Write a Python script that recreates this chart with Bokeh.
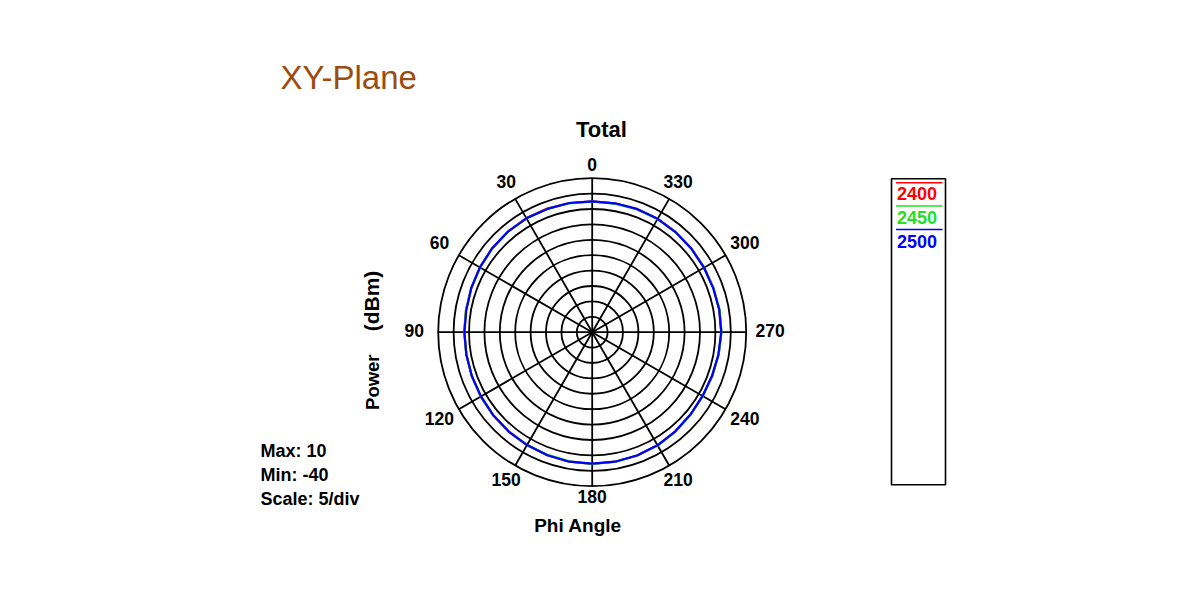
import numpy as np
from bokeh.plotting import figure
from bokeh.models import Range1d, Label
from bokeh.embed import file_html
from bokeh.resources import INLINE

# ---------------- data ----------------
phi_deg = list(range(0, 360, 10))
p2400 = [2.5, 2.6, 2.7, 2.8, 2.6, 2.4, 2.1, 1.8, 1.6, 1.5, 1.5, 1.6,
         1.8, 2.0, 2.2, 2.3, 2.5, 2.7, 2.8, 2.7, 2.6, 2.4, 2.0, 1.7,
         1.4, 1.5, 1.7, 1.9, 1.9, 1.9, 2.0, 2.1, 2.3, 2.5, 2.5, 2.5]
p2450 = [2.4, 2.5, 2.6, 2.7, 2.6, 2.3, 2.0, 1.8, 1.6, 1.6, 1.5, 1.6,
         1.8, 2.0, 2.1, 2.3, 2.4, 2.6, 2.8, 2.8, 2.6, 2.5, 2.1, 1.7,
         1.5, 1.5, 1.7, 2.0, 2.0, 1.9, 1.9, 2.1, 2.3, 2.4, 2.5, 2.4]
p2500 = [2.5, 2.6, 2.6, 2.7, 2.6, 2.4, 2.1, 1.8, 1.5, 1.5, 1.5, 1.6,
         1.7, 1.9, 2.1, 2.3, 2.5, 2.7, 2.7, 2.7, 2.6, 2.4, 2.0, 1.6,
         1.4, 1.4, 1.6, 1.9, 1.9, 1.8, 1.9, 2.1, 2.3, 2.5, 2.6, 2.5]
series_names = ["2400", "2450", "2500"]
series_colors = ["#FF0000", "#22E022", "#0000FF"]
angle_ticks = [0, 30, 60, 90, 120, 150, 180, 210, 240, 270, 300, 330]
r_min, r_max, r_step = -40, 10, 5

# ---------------- geometry helpers ----------------
W, H = 1184, 584
PX = 3.08             # pixels per dB
CX, CY = 591.7, 331.7 # centre in screenshot pixels
FONT = "Liberation Sans"


def P(X, Y):
    """screenshot pixel -> data coords"""
    return ((X - CX) / PX, (CY - Y) / PX)


def polar(phi, v):
    r = np.asarray(v, float) - r_min
    t = np.radians(np.asarray(phi, float))
    return -r * np.sin(t), r * np.cos(t)


p = figure(width=W, height=H, output_backend="svg", toolbar_location=None,
           x_range=Range1d(-CX / PX, (W - CX) / PX),
           y_range=Range1d(-(H - CY) / PX, CY / PX),
           min_border=0, outline_line_color=None)
p.axis.visible = False
p.grid.visible = False
p.background_fill_color = "white"
p.border_fill_color = "white"

R = r_max - r_min
# rings
rings = list(range(r_step, R + 1, r_step))
p.circle(x=[0] * len(rings), y=[0] * len(rings), radius=rings,
         fill_color=None, line_color="black", line_width=1.8)
# spokes
ex, ey = polar(angle_ticks, [r_max] * len(angle_ticks))
p.segment(x0=[0] * len(ex), y0=[0] * len(ey), x1=ex, y1=ey,
          line_color="black", line_width=1.8)

# traces
for vals, c in zip([p2400, p2450, p2500], series_colors):
    ph = phi_deg + [phi_deg[0] + 360]
    vv = vals + [vals[0]]
    x, y = polar(ph, vv)
    p.line(x, y, line_color=c, line_width=2.2)


def lab(X, Y, txt, size, align="left", color="black", style="bold", angle=0.0):
    shift = 0.44 * float(size.replace("px", ""))
    if angle == 0.0:
        Y = Y - shift
    else:
        X = X - shift
    x, y = P(X, Y)
    p.add_layout(Label(x=x, y=y, text=txt, text_font=FONT, text_font_style=style,
                       text_font_size=size, text_align=align, angle=angle,
                       text_baseline="alphabetic", text_color=color))


# angle labels
for a in angle_ticks:
    t = np.radians(a)
    rr = 166 + 12 * abs(np.sin(t))
    X = CX - rr * np.sin(t)
    Y = CY - rr * np.cos(t) + 0.358 * 17.5
    lab(X, Y, str(a), "17.5px", align="center")

lab(280, 91.5, "XY-Plane", "33px", color="#9C4C10", style="normal")
lab(601, 138.3, "Total", "22px", align="center")
lab(577.5, 533, "Phi Angle", "19px", align="center")
lab(380.5, 381.7, "Power", "18.5px", align="center", angle=np.pi / 2)
lab(380.5, 300.5, "(dBm)", "21px", align="center", angle=np.pi / 2)
lab(260, 458, "Max: %d" % r_max, "18px")
lab(260, 482, "Min: %d" % r_min, "18px")
lab(260, 506, "Scale: %d/div" % r_step, "18px")

# legend box
bx0, by0 = P(891, 178.3)
bx1, by1 = P(945, 484.3)
p.quad(left=bx0, right=bx1, top=by0, bottom=by1, fill_color="white",
       line_color="black", line_width=1.6)
line_y = [182.3, 205.5, 229]
text_y = [201, 225, 249]
for name, c, ly, ty in zip(series_names, series_colors, line_y, text_y):
    x0, yy = P(895.5, ly)
    x1, _ = P(942, ly)
    p.line([x0, x1], [yy, yy], line_color=c, line_width=1.6)
    lab(896.5, ty, name, "18px", color=c)

open("out.html", "w").write(file_html(p, INLINE))
